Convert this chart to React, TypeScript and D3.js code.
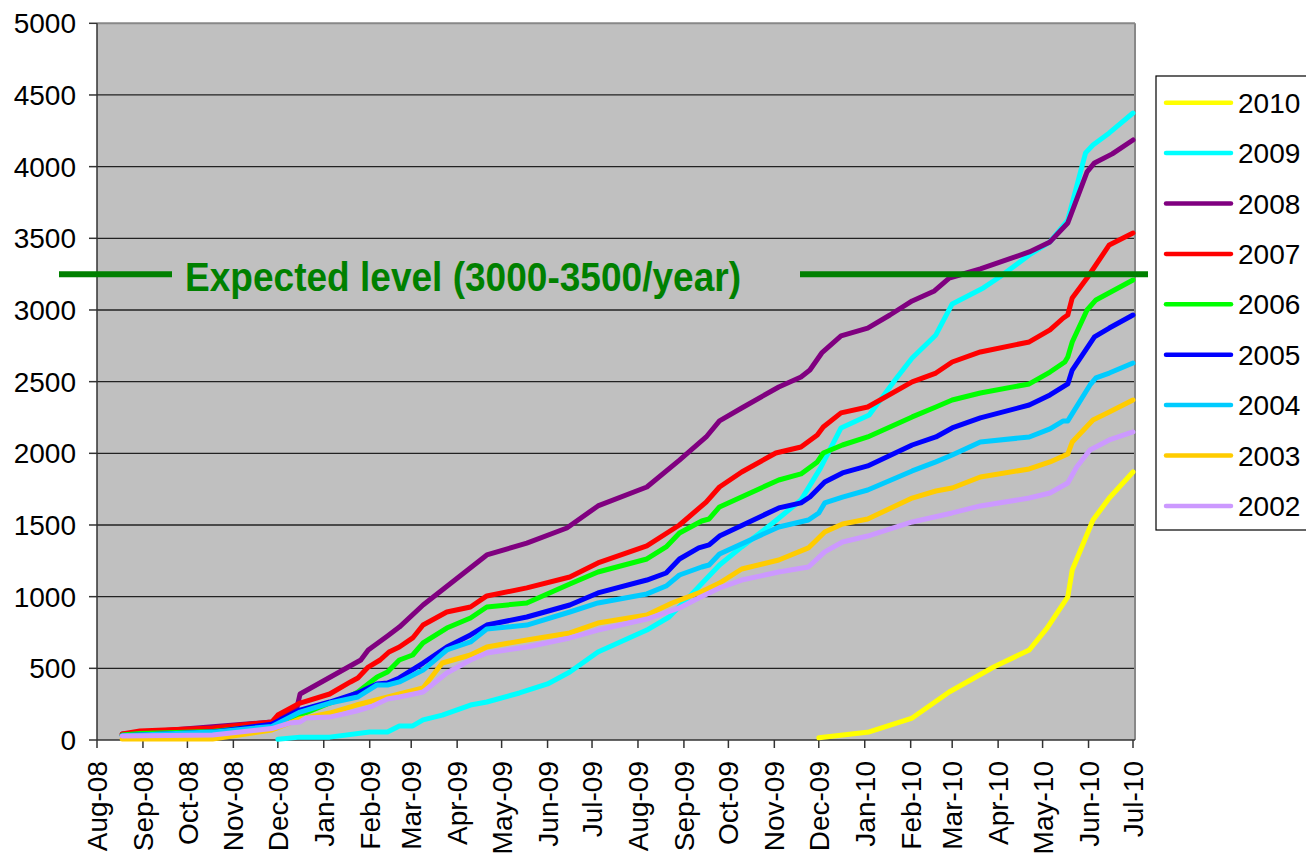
import React from "react";
import * as d3 from "d3";

type Pt = [string, number];

const S2010: Pt[] = [["2009-12-01",15],["2010-01-04",56],["2010-02-02",153],["2010-02-27",335],["2010-03-29",509],["2010-04-22",628],["2010-05-04",781],["2010-05-18",998],["2010-05-21",1186],["2010-06-04",1535],["2010-06-15",1688],["2010-07-01",1870]];
const S2009: Pt[] = [["2008-12-01",5],["2008-12-16",20],["2009-01-05",20],["2009-02-01",56],["2009-02-13",56],["2009-02-21",98],["2009-03-02",98],["2009-03-09",140],["2009-03-22",174],["2009-04-10",244],["2009-04-21",265],["2009-05-13",328],["2009-06-01",391],["2009-06-16",474],["2009-07-05",614],["2009-08-07",767],["2009-08-22",858],["2009-09-07",1025],["2009-09-25",1221],["2009-10-10",1347],["2009-10-31",1514],["2009-11-19",1674],["2009-12-02",1895],["2009-12-16",2177],["2010-01-04",2267],["2010-01-23",2533],["2010-02-02",2665],["2010-02-18",2826],["2010-03-01",3042],["2010-03-22",3154],["2010-04-02",3230],["2010-04-22",3384],["2010-05-06",3475],["2010-05-18",3628],["2010-05-30",4096],["2010-06-04",4151],["2010-06-15",4235],["2010-07-01",4374]];
const S2008: Pt[] = [["2008-08-18",42],["2008-11-27",125],["2008-12-09",200],["2008-12-14",230],["2008-12-16",321],["2009-01-26",558],["2009-01-31",628],["2009-02-13",726],["2009-02-21",788],["2009-03-09",942],["2009-04-21",1291],["2009-05-18",1374],["2009-06-14",1479],["2009-07-05",1633],["2009-08-07",1765],["2009-08-29",1953],["2009-09-16",2114],["2009-09-25",2226],["2009-10-10",2316],["2009-11-04",2463],["2009-11-19",2533],["2009-11-25",2581],["2009-12-03",2700],["2009-12-16",2819],["2010-01-03",2874],["2010-01-18",2965],["2010-02-02",3063],["2010-02-17",3133],["2010-02-27",3223],["2010-03-20",3286],["2010-04-22",3405],["2010-05-06",3475],["2010-05-18",3607],["2010-05-31",3963],["2010-06-05",4026],["2010-06-17",4089],["2010-07-01",4186]];
const S2007: Pt[] = [["2008-08-18",42],["2008-08-30",63],["2008-10-18",84],["2008-11-27",126],["2008-12-01",174],["2008-12-16",258],["2009-01-05",321],["2009-01-19",405],["2009-01-24",433],["2009-01-31",509],["2009-02-08",558],["2009-02-14",614],["2009-02-21",649],["2009-03-02",712],["2009-03-09",802],["2009-03-25",893],["2009-04-10",928],["2009-04-21",1005],["2009-05-18",1061],["2009-06-16",1137],["2009-07-05",1235],["2009-08-07",1354],["2009-08-29",1500],["2009-09-16",1660],["2009-09-25",1765],["2009-10-10",1870],["2009-11-02",2002],["2009-11-19",2044],["2009-11-30",2128],["2009-12-04",2184],["2009-12-16",2282],["2010-01-03",2323],["2010-02-02",2498],["2010-02-18",2560],["2010-03-01",2637],["2010-03-20",2707],["2010-04-22",2777],["2010-05-06",2861],["2010-05-15",2944],["2010-05-18",2965],["2010-05-21",3084],["2010-05-31",3223],["2010-06-15",3454],["2010-07-01",3537]];
const S2006: Pt[] = [["2008-08-18",35],["2008-08-30",45],["2008-10-18",60],["2008-11-27",105],["2008-12-16",174],["2009-01-05",258],["2009-01-19",307],["2009-01-24",335],["2009-02-06",440],["2009-02-13",474],["2009-02-21",558],["2009-03-02",593],["2009-03-09",677],["2009-03-25",781],["2009-04-10",851],["2009-04-21",928],["2009-05-18",956],["2009-06-16",1088],["2009-07-05",1172],["2009-08-07",1263],["2009-08-20",1347],["2009-08-29",1444],["2009-09-13",1528],["2009-09-18",1542],["2009-09-25",1626],["2009-11-04",1814],["2009-11-19",1856],["2009-11-30",1940],["2009-12-04",2002],["2009-12-17",2058],["2010-01-03",2114],["2010-02-02",2254],["2010-02-18",2323],["2010-03-01",2372],["2010-03-20",2421],["2010-04-22",2484],["2010-05-06",2567],["2010-05-16",2637],["2010-05-18",2672],["2010-05-21",2777],["2010-05-31",3000],["2010-06-06",3070],["2010-07-01",3209]];
const S2005: Pt[] = [["2008-08-18",30],["2008-10-18",55],["2008-11-27",110],["2008-12-16",209],["2009-01-05",265],["2009-01-24",328],["2009-01-31",363],["2009-02-06",391],["2009-02-13",398],["2009-02-21",433],["2009-03-09",537],["2009-03-25",649],["2009-04-10",733],["2009-04-21",802],["2009-05-18",858],["2009-06-16",942],["2009-07-05",1026],["2009-08-07",1116],["2009-08-20",1165],["2009-08-29",1263],["2009-09-11",1340],["2009-09-18",1361],["2009-09-25",1423],["2009-11-04",1619],["2009-11-19",1654],["2009-11-25",1695],["2009-12-05",1800],["2009-12-17",1863],["2010-01-03",1912],["2010-02-02",2058],["2010-02-18",2114],["2010-03-01",2177],["2010-03-20",2247],["2010-04-22",2337],["2010-05-06",2407],["2010-05-18",2484],["2010-05-21",2581],["2010-06-05",2812],["2010-06-15",2874],["2010-07-01",2965]];
const S2004: Pt[] = [["2008-08-18",30],["2008-10-18",55],["2008-11-27",95],["2008-12-16",195],["2009-01-05",258],["2009-01-24",300],["2009-02-06",384],["2009-02-13",384],["2009-02-21",405],["2009-03-09",488],["2009-03-25",628],["2009-04-10",684],["2009-04-21",774],["2009-05-18",802],["2009-06-16",893],["2009-07-05",956],["2009-08-07",1019],["2009-08-20",1074],["2009-08-29",1151],["2009-09-13",1207],["2009-09-18",1221],["2009-09-25",1298],["2009-11-04",1486],["2009-11-24",1535],["2009-12-01",1584],["2009-12-05",1654],["2009-12-17",1695],["2010-01-03",1744],["2010-02-02",1877],["2010-02-18",1940],["2010-03-01",1988],["2010-03-20",2079],["2010-04-22",2114],["2010-05-06",2170],["2010-05-15",2226],["2010-05-18",2226],["2010-06-02",2477],["2010-06-06",2526],["2010-06-15",2560],["2010-07-01",2630]];
const S2003: Pt[] = [["2008-08-18",7],["2008-10-18",7],["2008-11-27",70],["2008-12-16",147],["2009-01-05",188],["2009-01-23",244],["2009-02-08",286],["2009-02-21",321],["2009-03-09",363],["2009-03-22",537],["2009-04-10",593],["2009-04-21",649],["2009-05-18",698],["2009-06-16",747],["2009-07-05",816],["2009-08-07",872],["2009-08-24",956],["2009-09-11",1026],["2009-09-25",1095],["2009-10-10",1193],["2009-11-04",1256],["2009-11-24",1340],["2009-12-05",1451],["2009-12-17",1507],["2010-01-03",1542],["2010-02-02",1688],["2010-02-18",1737],["2010-03-01",1758],["2010-03-20",1835],["2010-04-22",1891],["2010-05-06",1940],["2010-05-18",1995],["2010-05-21",2079],["2010-06-04",2233],["2010-06-15",2288],["2010-07-01",2372]];
const S2002: Pt[] = [["2008-08-18",28],["2008-10-18",35],["2008-11-27",80],["2008-12-09",118],["2008-12-16",126],["2008-12-20",153],["2009-01-05",160],["2009-01-23",202],["2009-02-03",237],["2009-02-13",286],["2009-02-21",300],["2009-03-09",335],["2009-03-25",467],["2009-04-10",558],["2009-04-21",607],["2009-05-18",649],["2009-06-16",712],["2009-07-05",767],["2009-08-07",844],["2009-08-29",921],["2009-09-11",991],["2009-09-25",1061],["2009-10-10",1116],["2009-11-04",1172],["2009-11-24",1207],["2009-12-05",1312],["2009-12-17",1381],["2010-01-03",1423],["2010-02-02",1521],["2010-03-01",1584],["2010-03-20",1633],["2010-04-22",1688],["2010-05-06",1723],["2010-05-18",1793],["2010-05-24",1905],["2010-06-02",2023],["2010-06-15",2093],["2010-07-01",2149]];

const seriesNames = ["2010","2009","2008","2007","2006","2005","2004","2003","2002"];
const seriesColors = ["#FFFF00","#00FFFF","#800080","#FF0000","#00FF00","#0000FF","#00CCFF","#FFCC00","#CC99FF"];
const seriesData = [S2010,S2009,S2008,S2007,S2006,S2005,S2004,S2003,S2002];

const yTicks = [0,500,1000,1500,2000,2500,3000,3500,4000,4500,5000];
const xStart = "2008-08-01";
const xEnd = "2010-07-01";
const expectedLevel = 3250;
const expectedLabel = "Expected level (3000-3500/year)";

const FONT = "'Liberation Sans', Arial, sans-serif";

export default function App() {
  const parse = d3.timeParse("%Y-%m-%d");
  const fmt = d3.timeFormat("%b-%y");
  const left = 97, right = 1135, top = 23.3, bottom = 740;
  const x = d3.scaleTime().domain([parse(xStart)!, parse(xEnd)!]).range([97, 1133]);
  const y = d3.scaleLinear().domain([0, 5000]).range([bottom, top]);
  const months = d3.timeMonth.range(parse(xStart)!, d3.timeDay.offset(parse(xEnd)!, 1));
  const line = d3.line<Pt>().x(d => x(parse(d[0])!)).y(d => y(d[1]));

  return (
    <svg width={1306} height={856} style={{ position: "absolute", left: 0, top: 0, background: "#fff" }} fontFamily={FONT}>
      <rect x={left} y={top} width={right - left} height={bottom - top} fill="#C0C0C0" />
      {yTicks.filter(t => t > 0 && t < 5000).map(t => (
        <line key={t} x1={left} x2={right} y1={y(t)} y2={y(t)} stroke="#222" strokeWidth={1.3} />
      ))}
      <line x1={left} x2={right} y1={top} y2={top} stroke="#888" strokeWidth={2} />
      <line x1={right} x2={right} y1={top} y2={bottom} stroke="#888" strokeWidth={2} />
      {/* y axis */}
      <line x1={left} x2={left} y1={top} y2={bottom} stroke="#333" strokeWidth={1.5} />
      {yTicks.map(t => (
        <g key={t}>
          <line x1={left - 8} x2={left} y1={y(t)} y2={y(t)} stroke="#333" strokeWidth={1.5} />
          <text x={76} y={y(t)} dy="0.36em" textAnchor="end" fontSize={28}>{t}</text>
        </g>
      ))}
      {/* x axis */}
      <line x1={left} x2={right} y1={bottom} y2={bottom} stroke="#333" strokeWidth={1.5} />
      {months.map(m => (
        <g key={m.getTime()}>
          <line x1={x(m)} x2={x(m)} y1={bottom} y2={bottom + 8} stroke="#333" strokeWidth={1.5} />
          <text transform={`translate(${x(m)},761) rotate(-90)`} dy="0.36em" textAnchor="end" fontSize={28}>{fmt(m)}</text>
        </g>
      ))}
      {/* series */}
      {seriesData.map((d, i) => (
        <path key={seriesNames[i]} d={line(d) || ""} fill="none" stroke={seriesColors[i]} strokeWidth={5} strokeLinejoin="round" strokeLinecap="round" />
      ))}
      {/* expected level */}
      <line x1={59} x2={172} y1={y(expectedLevel)} y2={y(expectedLevel)} stroke="#008000" strokeWidth={6} />
      <line x1={800} x2={1148} y1={y(expectedLevel)} y2={y(expectedLevel)} stroke="#008000" strokeWidth={6} />
      <text x={185} y={y(expectedLevel) + 2} dy="0.36em" fontSize={40} fontWeight="bold" fill="#008000" textLength={556} lengthAdjust="spacingAndGlyphs">{expectedLabel}</text>
      {/* legend */}
      <rect x={1156} y={76} width={160} height={454} fill="#fff" stroke="#000" strokeWidth={1.2} />
      {seriesNames.map((n, i) => (
        <g key={n}>
          <line x1={1166} x2={1231} y1={102.7 + i * 50.4} y2={102.7 + i * 50.4} stroke={seriesColors[i]} strokeWidth={4.5} strokeLinecap="round" />
          <text x={1238} y={102.7 + i * 50.4} dy="0.36em" fontSize={28}>{n}</text>
        </g>
      ))}
    </svg>
  );
}
